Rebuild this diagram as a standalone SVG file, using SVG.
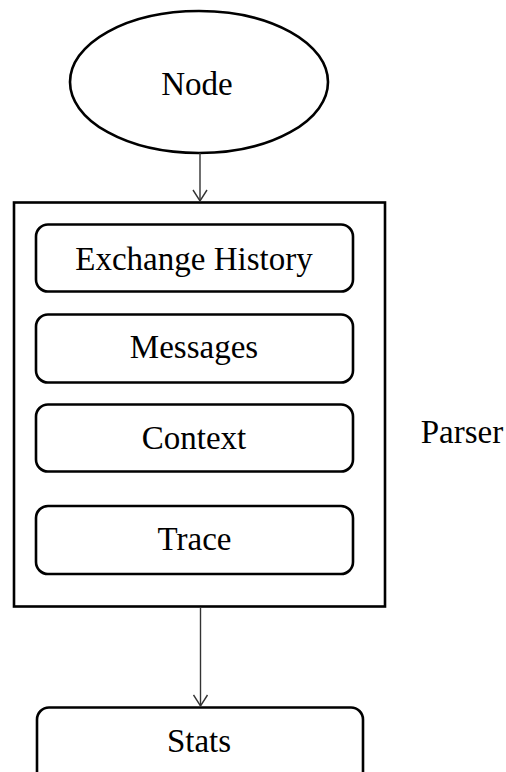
<svg xmlns="http://www.w3.org/2000/svg" width="506" height="772" viewBox="0 0 506 772">
<style>
  .shape { fill: #ffffff; stroke: #000000; stroke-width: 2.6; }
  .lbl { font-family: "Liberation Serif", "Times New Roman", serif; font-size: 33px; fill: #000000; text-anchor: middle; }
  .conn { stroke: #333333; stroke-width: 1.4; fill: none; }
</style>
<defs>
  <marker id="arrow" markerWidth="16" markerHeight="16" refX="13" refY="8" orient="auto" markerUnits="userSpaceOnUse">
    <path d="M2,1 L13,8 L2,15" fill="none" stroke="#333333" stroke-width="1.4"/>
  </marker>
</defs>
<rect width="506" height="772" fill="#ffffff"/>
<g id="node-node">
  <ellipse class="shape" cx="199" cy="82" rx="129" ry="71"/>
  <text class="lbl" x="197" y="95">Node</text>
</g>
<g id="node-parser">
  <rect class="shape" x="14" y="202.5" width="371" height="404"/>
  <text class="lbl" x="462" y="443">Parser</text>
</g>
<g id="node-exchange-history">
  <rect class="shape" x="36" y="224.5" width="317" height="67" rx="12" ry="12"/>
  <text class="lbl" x="194" y="270">Exchange History</text>
</g>
<g id="node-messages">
  <rect class="shape" x="36" y="314.5" width="317" height="68" rx="12" ry="12"/>
  <text class="lbl" x="194" y="358">Messages</text>
</g>
<g id="node-context">
  <rect class="shape" x="36" y="404.5" width="317" height="67" rx="12" ry="12"/>
  <text class="lbl" x="194" y="449">Context</text>
</g>
<g id="node-trace">
  <rect class="shape" x="36" y="506" width="317" height="68" rx="12" ry="12"/>
  <text class="lbl" x="194.5" y="550">Trace</text>
</g>
<g id="node-stats">
  <rect class="shape" x="37" y="707.5" width="326" height="80" rx="12" ry="12"/>
  <text class="lbl" x="199" y="752">Stats</text>
</g>
<g id="connectors">
  <line class="conn" x1="200" y1="153" x2="200" y2="201" marker-end="url(#arrow)"/>
  <line class="conn" x1="200.5" y1="608" x2="200.5" y2="706" marker-end="url(#arrow)"/>
</g>
</svg>
